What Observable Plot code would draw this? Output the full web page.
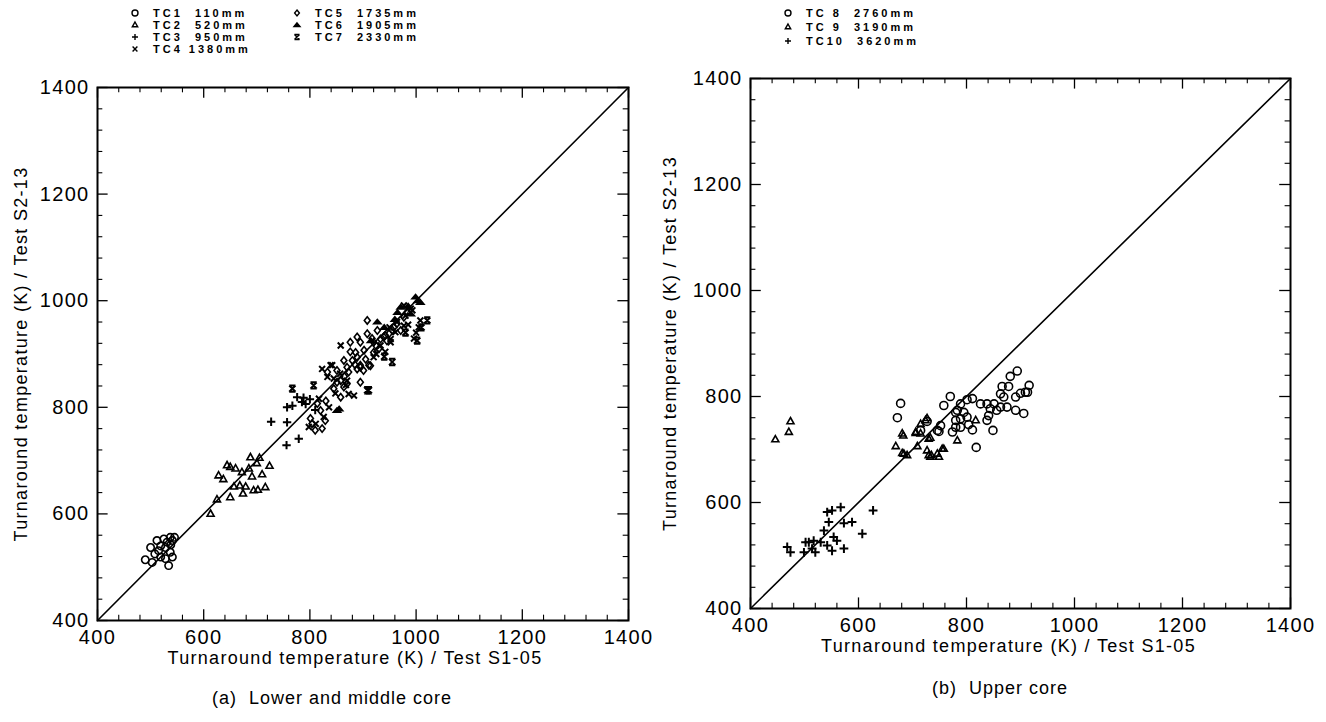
<!DOCTYPE html>
<html>
<head>
<meta charset="utf-8">
<script src="https://cdn.jsdelivr.net/npm/d3@7"></script>
<script src="https://cdn.jsdelivr.net/npm/@observablehq/plot@0.6"></script>
<style>
  html, body { margin: 0; padding: 0; background: #fff; }
  #root { position: relative; width: 1326px; height: 722px; overflow: hidden; font-family: "Liberation Sans", Arial, sans-serif; color: #000; }
  .panel { position: absolute; top: 0; }
  .panel svg text { letter-spacing: 1.3px; }
  .leg { position: absolute; display: flex; align-items: center; font: bold 11px "Liberation Sans", Arial, sans-serif; letter-spacing: 3px; white-space: pre; line-height: 10px; height: 10px; }
  .leg svg { margin-right: 14px; overflow: visible; }
  .cap { position: absolute; font-size: 18px; letter-spacing: 1px; white-space: pre; transform: translateX(-50%); }
</style>
</head>
<body>
<div id="root"></div>
<script>
// ---------- data ----------
const domainK = [400, 1400];
const majorTicks = [400, 600, 800, 1000, 1200, 1400];
const minorTicks = [440, 480, 520, 560, 640, 680, 720, 760, 840, 880, 920, 960, 1040, 1080, 1120, 1160, 1240, 1280, 1320, 1360];
const diagonal = [400, 1400];

const xTitle = "Turnaround temperature (K) / Test S1-05";
const yTitle = "Turnaround temperature (K) / Test S2-13";
const captionA = "(a)  Lower and middle core";
const captionB = "(b)  Upper core";

const legendA = ["TC1  110mm", "TC2  520mm", "TC3  950mm", "TC4 1380mm", "TC5  1735mm", "TC6  1905mm", "TC7  2330mm"];
const legendB = ["TC 8  2760mm", "TC 9  3190mm", "TC10  3620mm"];

// (a) lower and middle core: [S1-05, S2-13] in K
const tc1 = [[490,514],[500,537],[512,550],[503,509],[515,531],[519,519],[528,537],[528,516],[534,503],[537,528],[541,519],[531,547],[537,556],[525,553],[519,540],[541,550],[545,556],[538,542],[508,525]];
const tc2 = [[613,600],[625,627],[628,672],[637,665],[644,691],[650,688],[660,685],[657,651],[650,631],[672,678],[674,638],[679,651],[688,706],[691,670],[694,644],[702,645],[710,674],[716,650],[724,690],[685,685],[668,653],[700,695],[705,705]];
const tc3 = [[727,773],[757,772],[756,729],[779,741],[757,800],[767,803],[776,819],[785,810],[792,806],[788,818],[800,815],[810,795]];
const tc4 = [[858,916],[842,879],[823,872],[833,857],[873,825],[883,822],[817,816],[836,800],[826,782],[811,769],[798,763],[996,929],[1005,950],[1008,963],[993,982],[977,991],[952,922],[933,916],[920,894],[942,904],[845,854],[870,850],[839,879],[857,863],[964,960],[961,941],[980,972],[985,955],[1000,940],[950,950],[977,953],[952,928],[868,842],[848,826],[925,900],[990,985]];
const tc5 = [[908,963],[876,922],[889,932],[895,922],[908,938],[917,929],[927,944],[939,932],[949,938],[958,950],[964,957],[977,969],[983,979],[971,944],[902,907],[889,894],[876,904],[864,888],[870,875],[895,875],[911,879],[858,850],[851,869],[864,838],[833,866],[858,819],[814,807],[820,794],[801,779],[810,757],[823,760],[829,775],[804,769],[886,903],[920,903],[930,910],[880,888],[914,878],[873,866],[889,872],[851,847],[870,844],[895,847],[942,935],[933,928],[920,922],[901,869],[895,879],[945,925],[955,945],[925,915],[905,890],[885,880],[865,858],[845,835],[830,812]];
const tc6 = [[927,960],[1008,997],[999,1007],[855,797],[971,988],[851,794],[1003,1000],[990,975],[960,965],[940,950],[965,978],[985,990],[915,925]];
const tc7 = [[767,835],[807,841],[911,832],[955,885],[1021,963],[1002,925],[908,832],[980,940],[1010,950],[940,895]];

// (b) upper core
const tc8 = [[678,787],[672,760],[727,753],[746,736],[758,783],[770,800],[783,774],[780,742],[789,786],[801,794],[811,796],[780,770],[780,755],[789,758],[801,761],[804,747],[811,737],[789,742],[774,733],[752,745],[749,734],[818,704],[826,786],[838,786],[844,777],[841,764],[838,755],[851,786],[856,774],[849,736],[863,780],[875,780],[869,799],[866,819],[878,819],[863,805],[881,838],[894,848],[891,799],[900,806],[909,808],[916,821],[913,808],[891,774],[906,768],[715,736],[795,770]];
const tc9 = [[446,719],[471,733],[474,753],[669,706],[683,726],[681,693],[690,689],[709,706],[706,731],[715,730],[715,748],[727,759],[733,722],[730,689],[735,689],[749,686],[758,701],[727,698],[733,686],[746,692],[755,701],[724,755],[730,720],[706,733],[681,730],[684,692],[783,717],[817,755]];
const tc10 = [[468,516],[474,506],[499,506],[508,525],[517,528],[520,506],[530,525],[542,519],[551,509],[554,535],[560,528],[573,513],[536,547],[545,563],[542,582],[551,585],[567,591],[573,561],[588,563],[607,541],[627,585],[502,525],[514,513]];

// ---------- symbols ----------
const half = size => Math.sqrt(size / Math.PI);
const SYM = {
  circle:   {draw(c, size){ const s = half(size); c.moveTo(s, 0); c.arc(0, 0, s, 0, 2 * Math.PI); }},
  triangle: {draw(c, size){ const s = half(size); c.moveTo(0, -s); c.lineTo(s * 0.9, s * 0.6); c.lineTo(-s * 0.9, s * 0.6); c.closePath(); }},
  plus:     {draw(c, size){ const s = half(size); c.moveTo(-s, 0); c.lineTo(s, 0); c.moveTo(0, -s); c.lineTo(0, s); }},
  times:    {draw(c, size){ const s = half(size) * 0.8; c.moveTo(-s, -s); c.lineTo(s, s); c.moveTo(s, -s); c.lineTo(-s, s); }},
  diamond:  {draw(c, size){ const s = half(size); c.moveTo(0, -s); c.lineTo(s * 0.8, 0); c.lineTo(0, s); c.lineTo(-s * 0.8, 0); c.closePath(); }},
  caret:    {draw(c, size){ const s = half(size); c.moveTo(0, -s * 0.7); c.lineTo(s, s * 0.5); c.lineTo(-s, s * 0.5); c.closePath(); }},
  bowtie:   {draw(c, size){ const s = half(size) * 0.85; c.moveTo(-s, -s); c.lineTo(s, s); c.moveTo(s, -s); c.lineTo(-s, s); c.moveTo(-s, -s); c.lineTo(s, -s); c.moveTo(-s, s); c.lineTo(s, s); }}
};

const seriesA = [
  {data: tc1, sym: "circle", r: 3.7},
  {data: tc2, sym: "triangle", r: 3.9},
  {data: tc3, sym: "plus", r: 4.2, sw: 2},
  {data: tc4, sym: "times", r: 3.7, sw: 2},
  {data: tc5, sym: "diamond", r: 3.7},
  {data: tc6, sym: "caret", r: 3.6, filled: true},
  {data: tc7, sym: "bowtie", r: 3.7, sw: 2}
];
const seriesB = [
  {data: tc8, sym: "circle", r: 4},
  {data: tc9, sym: "triangle", r: 3.9},
  {data: tc10, sym: "plus", r: 4.4, sw: 2}
];

const majLen = 20, minLen = 10;

function panel(series, o) {
  const tickMarks = [
    Plot.ruleX(minorTicks, {x: d => d, y1: domainK[0], y2: domainK[0] + minLen, stroke: "black", strokeWidth: 1.1}),
    Plot.ruleX(minorTicks, {x: d => d, y1: domainK[1] - minLen, y2: domainK[1], stroke: "black", strokeWidth: 1.1}),
    Plot.ruleY(minorTicks, {y: d => d, x1: domainK[0], x2: domainK[0] + minLen, stroke: "black", strokeWidth: 1.1}),
    Plot.ruleY(minorTicks, {y: d => d, x1: domainK[1] - minLen, x2: domainK[1], stroke: "black", strokeWidth: 1.1}),
    Plot.ruleX(majorTicks, {x: d => d, y1: domainK[0], y2: domainK[0] + majLen, stroke: "black", strokeWidth: 1.3}),
    Plot.ruleX(majorTicks, {x: d => d, y1: domainK[1] - majLen, y2: domainK[1], stroke: "black", strokeWidth: 1.3}),
    Plot.ruleY(majorTicks, {y: d => d, x1: domainK[0], x2: domainK[0] + majLen, stroke: "black", strokeWidth: 1.3}),
    Plot.ruleY(majorTicks, {y: d => d, x1: domainK[1] - majLen, x2: domainK[1], stroke: "black", strokeWidth: 1.3})
  ];
  const dots = series.map(s => Plot.dot(s.data, {
    x: d => d[0], y: d => d[1], symbol: SYM[s.sym], r: s.r,
    stroke: "black", strokeWidth: s.sw || 1.6, fill: s.filled ? "black" : "none"
  }));
  return Plot.plot({
    width: o.width, height: o.height,
    marginTop: o.mt, marginRight: o.mr, marginBottom: o.mb, marginLeft: o.ml,
    x: {domain: domainK},
    y: {domain: domainK},
    style: {fontFamily: "Liberation Sans, Arial, sans-serif", fontSize: "18px", color: "black", background: "white", overflow: "visible"},
    marks: [
      ...tickMarks,
      Plot.frame({stroke: "black", strokeWidth: 2}),
      Plot.line(diagonal, {x: d => d, y: d => d, stroke: "black", strokeWidth: 1.6}),
      Plot.axisX(majorTicks, {anchor: "bottom", tickSize: 0, tickPadding: 9, fontSize: 20, label: null, tickFormat: d => String(d)}),
      Plot.axisY(majorTicks, {anchor: "left", tickSize: 0, tickPadding: 8, fontSize: 20, label: null, tickFormat: d => String(d)}),
      Plot.text([xTitle], {text: d => d, frameAnchor: "bottom", textAnchor: "middle", dy: o.xTitleDy, dx: o.xTitleDx, fontSize: 18}),
      Plot.text([yTitle], {text: d => d, frameAnchor: "left", textAnchor: "middle", dx: o.yTitleDx, rotate: -90, fontSize: 18}),
      ...dots
    ]
  });
}

const root = document.getElementById("root");

function place(el, left) {
  const wrap = document.createElement("div");
  wrap.className = "panel";
  wrap.style.left = left + "px";
  wrap.appendChild(el);
  root.appendChild(wrap);
}

place(panel(seriesA, {width: 660, height: 722, mt: 87, mr: 32, mb: 102, ml: 97, xTitleDy: 43, xTitleDx: -8, yTitleDx: -76}), 0);
place(panel(seriesB, {width: 666, height: 722, mt: 78, mr: 36, mb: 114, ml: 90, xTitleDy: 43, xTitleDx: -12, yTitleDx: -80}), 660);

function legendItem(label, symKey, filled, left, top) {
  const div = document.createElement("div");
  div.className = "leg";
  div.style.left = left + "px";
  div.style.top = top + "px";
  const svg = d3.create("svg").attr("width", 8).attr("height", 8).attr("viewBox", "-4 -4 8 8");
  svg.append("path")
    .attr("d", d3.symbol(SYM[symKey], Math.PI * 3 * 3)())
    .attr("fill", filled ? "black" : "none")
    .attr("stroke", "black")
    .attr("stroke-width", 1.4);
  div.appendChild(svg.node());
  const span = document.createElement("span");
  span.textContent = label;
  div.appendChild(span);
  root.appendChild(div);
}

const symA = seriesA.map(s => [s.sym, !!s.filled]);
const symB = seriesB.map(s => [s.sym, !!s.filled]);
legendA.forEach((lab, i) => {
  const col = i < 4 ? 0 : 1;
  const row = i < 4 ? i : i - 4;
  legendItem(lab, symA[i][0], symA[i][1], col === 0 ? 131 : 293, 8 + row * 12);
});
legendB.forEach((lab, i) => {
  legendItem(lab, symB[i][0], symB[i][1], 784, 8 + i * 14);
});

function caption(text, cx, top) {
  const d = document.createElement("div");
  d.className = "cap";
  d.textContent = text;
  d.style.left = cx + "px";
  d.style.top = top + "px";
  root.appendChild(d);
}
caption(captionA, 332, 688);
caption(captionB, 1000, 678);
</script>
</body>
</html>
